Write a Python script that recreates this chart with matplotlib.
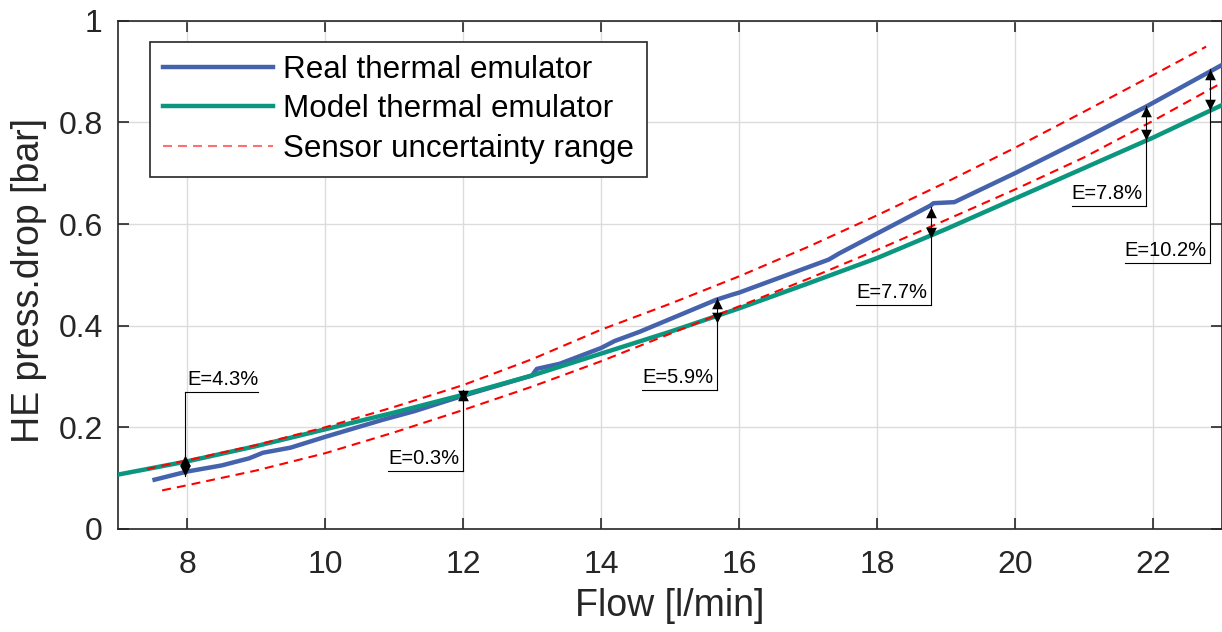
import numpy as np
import matplotlib.pyplot as plt
from matplotlib.lines import Line2D
from matplotlib.path import Path
from matplotlib.ticker import FuncFormatter

plt.rcParams['font.family'] = ['Liberation Sans', 'DejaVu Sans']

# real thermal emulator, measured HE pressure drop
flow_real = [7.53, 8.0, 8.5, 8.9, 9.1, 9.5, 10.02, 10.84, 11.3, 11.81, 12.0, 13.0, 13.07,
             13.4, 14.0, 14.2, 14.56, 15.67, 15.9, 16.0, 17.3, 17.45, 18.77, 18.82,
             19.12, 20.0, 21.0, 21.9, 23.0]
dp_real = [0.097, 0.113, 0.125, 0.139, 0.150, 0.160, 0.182, 0.215, 0.232, 0.254, 0.262, 0.302, 0.315,
           0.325, 0.356, 0.370, 0.388, 0.451, 0.461, 0.465, 0.530, 0.542, 0.636, 0.641,
           0.643, 0.700, 0.768, 0.831, 0.913]

# model thermal emulator
flow_model = [7, 8, 9, 10, 11, 12, 13, 14, 15, 16, 17, 18, 19, 20, 21, 22, 23]
dp_model = [0.107, 0.133, 0.163, 0.196, 0.229, 0.264, 0.302, 0.345, 0.388, 0.434,
            0.483, 0.533, 0.590, 0.650, 0.710, 0.770, 0.834]

# sensor uncertainty band
flow_up = [7.42, 8, 9, 10, 11, 12, 13, 14, 15, 16, 17, 18, 19, 20, 21, 22, 22.77]
dp_up = [0.118, 0.135, 0.165, 0.200, 0.240, 0.283, 0.334, 0.392, 0.443, 0.497,
         0.555, 0.617, 0.682, 0.750, 0.821, 0.893, 0.949]
flow_low = [7.64, 8, 9, 10, 11, 12, 13, 14, 15, 16, 17, 18, 19, 20, 21, 22, 23]
dp_low = [0.076, 0.086, 0.115, 0.149, 0.190, 0.234, 0.280, 0.330, 0.384, 0.438,
          0.492, 0.549, 0.608, 0.668, 0.731, 0.803, 0.878]

# relative error marks (double arrow ends)
err_flow = [7.97, 12.0, 15.68, 18.78, 21.9, 22.83]
err_top = [0.145, 0.274, 0.454, 0.634, 0.832, 0.904]
err_bot = [0.104, 0.252, 0.406, 0.572, 0.765, 0.824]
err_text = ['E=4.3%', 'E=0.3%', 'E=5.9%', 'E=7.7%', 'E=7.8%', 'E=10.2%']
# where the labels sit (y of the underline) and on which side of the leader
lab_y = [0.270, 0.114, 0.274, 0.441, 0.636, 0.524]
lab_side = ['right', 'left', 'left', 'left', 'left', 'left']

c_real = '#4563ad'
c_model = '#0b9680'
c_axis = '#262626'

# arrow heads with the tip on the origin
head_up = Path([(0, 0), (-0.5, -1), (0.5, -1), (0, 0)], closed=True)
head_dn = Path([(0, 0), (-0.5, 1), (0.5, 1), (0, 0)], closed=True)

fig = plt.figure(figsize=(12.22, 6.32), dpi=100)
ax = fig.add_axes([118/1222, 103/632, 1104/1222, 508.3/632])

ax.plot(flow_real, dp_real, color=c_real, lw=3.2, solid_joinstyle='round', zorder=3)
ax.plot(flow_model, dp_model, color=c_model, lw=3.2, zorder=3)
ax.plot(flow_up, dp_up, color='red', lw=1.5, dashes=(4.3, 2.9), zorder=4)
ax.plot(flow_low, dp_low, color='red', lw=1.5, dashes=(4.3, 2.9), zorder=4)

ax.set_xlim(7, 23)
ax.set_ylim(0, 1)
ax.set_xticks(np.arange(8, 23, 2))
ax.set_yticks(np.arange(0, 1.01, 0.2))
ax.yaxis.set_major_formatter(FuncFormatter(lambda v, p: '%g' % round(v, 2)))
ax.grid(True, color='#dcdcdc', lw=1.0)
ax.set_axisbelow(True)
for s in ax.spines.values():
    s.set_color(c_axis)
    s.set_linewidth(1.2)
ax.tick_params(direction='in', length=8, width=1.2, color=c_axis, labelcolor=c_axis,
               labelsize=23, top=True, right=True)
ax.tick_params(axis='x', pad=15)
ax.tick_params(axis='y', pad=11)

ax.set_xlabel('Flow [l/min]', fontsize=27, color=c_axis, labelpad=6)
ax.set_ylabel('HE press.drop [bar]', fontsize=27, color=c_axis, labelpad=8)
ax.yaxis.set_label_coords(-0.064, 0.488)

# double arrows + underlined labels
labels = []
for i in range(len(err_flow)):
    x0 = err_flow[i]
    ytop, ybot = err_top[i], err_bot[i]
    ax.plot([x0, x0], [ybot, ytop], color='k', lw=0.8, zorder=6)
    ax.plot(x0, ytop, marker=head_up, ms=15.5, color='k', mew=0, zorder=6)
    ax.plot(x0, ybot, marker=head_dn, ms=15.5, color='k', mew=0, zorder=6)
    if lab_y[i] > ytop:
        y_start = ytop
    else:
        y_start = ybot
    ax.plot([x0, x0], [y_start, lab_y[i]], color='k', lw=0.8, zorder=5)
    if lab_side[i] == 'right':
        t = ax.annotate(err_text[i], (x0, lab_y[i]), xytext=(1.5, 2), textcoords='offset points',
                        ha='left', va='bottom', fontsize=14.5, color='k')
    else:
        t = ax.annotate(err_text[i], (x0, lab_y[i]), xytext=(-2.5, 2), textcoords='offset points',
                        ha='right', va='bottom', fontsize=14.5, color='k')
    labels.append(t)

fig.canvas.draw()
inv = ax.transData.inverted()
for i, t in enumerate(labels):
    bb = t.get_window_extent()
    xa = inv.transform((bb.x0, bb.y0))[0]
    xb = inv.transform((bb.x1, bb.y0))[0]
    if lab_side[i] == 'right':
        ax.plot([err_flow[i], xb], [lab_y[i], lab_y[i]], color='k', lw=0.8, zorder=5)
    else:
        ax.plot([xa, err_flow[i]], [lab_y[i], lab_y[i]], color='k', lw=0.8, zorder=5)

handles = [Line2D([], [], color=c_real, lw=3.2),
           Line2D([], [], color=c_model, lw=3.2),
           Line2D([], [], color='#ff6f6f', lw=1.5, dashes=(4.3, 2.9))]
leg = ax.legend(handles, ['Real thermal emulator', 'Model thermal emulator', 'Sensor uncertainty range'],
                loc='upper left', bbox_to_anchor=(32/1104, 1 - 21/508.3), borderaxespad=0,
                fontsize=22.6, handlelength=3.5, handletextpad=0.31, labelspacing=0.3,
                borderpad=0.42, fancybox=False, framealpha=1, edgecolor=c_axis)
leg.get_frame().set_linewidth(1.2)
leg.set_zorder(10)

fig.savefig('out.png', dpi=100)
